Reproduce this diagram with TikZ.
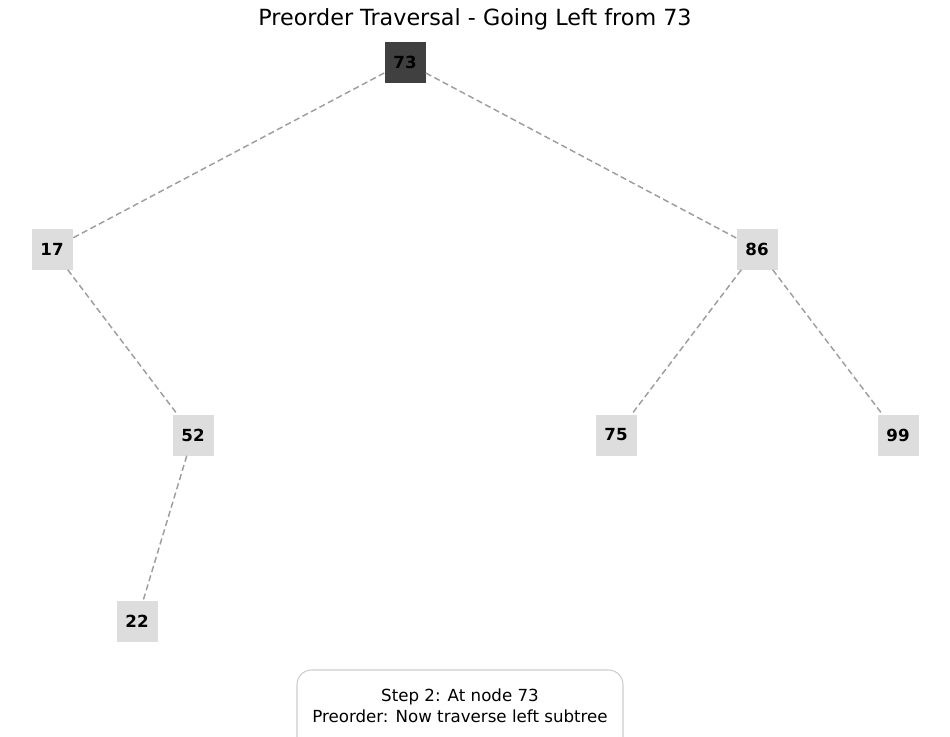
\documentclass[tikz,border=0pt]{standalone}
\usepackage{fontspec}
\setmainfont{DejaVu Sans}
\definecolor{visited}{HTML}{404040}
\definecolor{plain}{HTML}{DDDDDD}
\definecolor{edgegray}{HTML}{9E9E9E}
\definecolor{framegray}{HTML}{CCCCCC}
\begin{document}
\begin{tikzpicture}[x=0.75pt,y=-0.75pt,
  key/.style={fill=plain, minimum size=30.75pt, inner sep=0pt,
    font=\fontsize{12.5}{15}\selectfont\bfseries},
  edge/.style={draw=edgegray, line width=1.1pt, dash pattern=on 4.6pt off 2.6pt}]
\useasboundingbox (0,0) rectangle (950,736);
\node (title) at (475,19) {\fontsize{16.7}{20}\selectfont Preorder Traversal - Going Left from 73};
\node[key, fill=visited] (n73) at (405,62) {73};
\node[key] (n17) at (52,249) {17};
\node[key] (n86) at (757,249) {86};
\node[key] (n52) at (193,435) {52};
\node[key] (n75) at (616,435) {75};
\node[key] (n99) at (898,435) {99};
\node[key] (n22) at (137,621) {22};
\draw[edge] (n73)--(n17);
\draw[edge] (n73)--(n86);
\draw[edge] (n17)--(n52);
\draw[edge] (n52)--(n22);
\draw[edge] (n86)--(n75);
\draw[edge] (n86)--(n99);
% info box, cut off by the page edge
\draw[framegray, line width=0.8pt, rounded corners=11pt] (297,670) rectangle (623,770);
\node[align=center, font=\fontsize{12.5}{16.1}\selectfont] (info) at (460,706)
  {Step 2: At node 73\\Preorder: Now traverse left subtree};
\end{tikzpicture}
\end{document}
